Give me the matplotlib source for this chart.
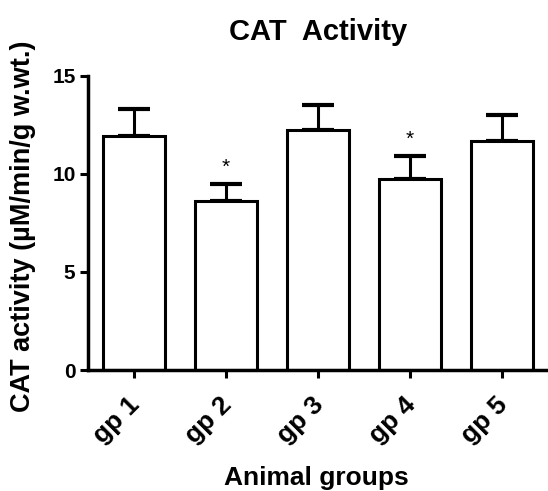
import numpy as np
import matplotlib.pyplot as plt

plt.rcParams['font.family'] = ['Liberation Sans', 'DejaVu Sans']
plt.rcParams['font.weight'] = 'bold'

groups = ['gp 1', 'gp 2', 'gp 3', 'gp 4', 'gp 5']
means = [11.95, 8.62, 12.25, 9.75, 11.68]
sems = [1.35, 0.88, 1.27, 1.18, 1.30]
signif = ['', '*', '', '*', '']

fig = plt.figure(figsize=(5.48, 4.91), dpi=100)
ax = fig.add_axes([0.1606, 0.2464, 0.8394, 0.5994])

x = np.arange(len(groups))
ax.bar(x, means, width=0.67, color='white', edgecolor='black', linewidth=2.2, zorder=2)
ax.errorbar(x, means, yerr=[np.zeros(len(sems)), sems], fmt='none', ecolor='black',
            elinewidth=2.2, capsize=11.5, capthick=3, zorder=1)

for xi, m, s, lab in zip(x, means, sems, signif):
    if lab:
        ax.text(xi, m + s + 0.35, lab, ha='center', va='bottom', fontsize=15, fontweight='normal')

ax.set_xlim(-0.5, 4.5)
ax.set_ylim(0, 15)
ax.set_yticks([0, 5, 10, 15])
ax.set_xticks(x)
ax.set_xticklabels(groups, rotation=45, ha='right', va='center_baseline',
                   rotation_mode='anchor', fontsize=19, fontweight='bold')
ax.tick_params(axis='y', labelsize=15, width=2.2, length=6, direction='out', pad=3)
ax.tick_params(axis='x', width=2.2, length=6, direction='out', pad=15)
for lbl in ax.get_yticklabels():
    lbl.set_fontweight('bold')

for side in ['top', 'right']:
    ax.spines[side].set_visible(False)
for side in ['left', 'bottom']:
    ax.spines[side].set_linewidth(2.5)

ax.set_ylabel('CAT activity (\u00b5M/min/g w.wt.)', fontsize=19.5, fontweight='bold')
ax.yaxis.set_label_coords(-0.112, 0.49)
ax.set_xlabel('Animal groups', fontsize=19, fontweight='bold')
ax.xaxis.set_label_coords(0.497, -0.325)
ax.set_title('CAT  Activity', fontsize=21, fontweight='bold', pad=26)

fig.savefig('out.png', dpi=100)
